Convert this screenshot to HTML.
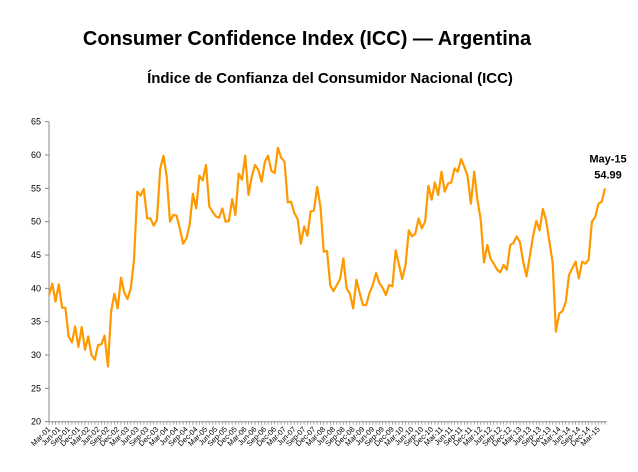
<!DOCTYPE html>
<html><head><meta charset="utf-8"><style>
body{margin:0;background:#fff;width:638px;height:467px;overflow:hidden;font-family:"Liberation Sans",sans-serif}
</style></head><body>
<svg width="638" height="467" xmlns="http://www.w3.org/2000/svg">
<text x="307" y="45" text-anchor="middle" font-size="20" font-weight="bold">Consumer Confidence Index (ICC) — Argentina</text>
<text x="330" y="83" text-anchor="middle" font-size="15" font-weight="bold">Índice de Confianza del Consumidor Nacional (ICC)</text>
<g id="axes"></g>
<path id="line" fill="none" stroke="#ff9900" stroke-width="2.2" stroke-linejoin="round"/>
<text id="lab1" text-anchor="middle" font-size="11" font-weight="bold">May-15</text>
<text id="lab2" text-anchor="middle" font-size="11" font-weight="bold"></text>
</svg>
<script>
const yTicks=[20,25,30,35,40,45,50,55,60,65];
const months=["Jan","Feb","Mar","Apr","May","Jun","Jul","Aug","Sep","Oct","Nov","Dec"];
const startYear=2001, startMonth=2;
const values=[39,40.7,38,40.6,37.1,37.1,32.8,31.9,34.3,31.2,34.2,30.8,32.8,30,29.3,31.5,31.6,32.9,28.3,36.5,39.2,37,41.6,39.4,38.4,40,44.3,54.5,53.9,54.9,50.5,50.5,49.4,50.3,57.9,59.9,56.8,50,51,50.9,49,46.7,47.5,49.5,54.2,52,56.9,56.2,58.5,52.3,51.5,50.8,50.6,
52,50,50.1,53.4,51,57.2,56.3,59.9,54,56.8,58.5,57.8,56,59,59.9,57.6,57.3,61.1,59.6,59,52.9,53,51.3,50.4,46.7,49.3,47.9,51.5,51.7,55.2,52.2,45.5,45.6,40.4,39.6,40.5,41.4,44.5,40,39.2,37,41.3,39.3,37.5,37.5,39.3,40.5,42.3,40.8,40.1,39,40.5,40.3,45.7,43.5,41.4,43.5,48.7,
47.8,48.2,50.5,49,50,55.4,53.3,55.9,54,57.5,54.5,55.7,55.9,58,57.5,59.4,58.2,56.8,52.7,57.5,53.3,50.3,43.9,46.5,44.5,43.7,42.8,42.4,43.5,42.8,46.5,46.8,47.8,46.9,44,41.8,44.8,47.8,50.1,48.7,51.9,50.2,47,43.8,33.5,36.2,36.6,38,42,43,44,41.5,44,43.7,44.3,50,50.7,52.7,53,54.99];
const X0=49,X1=605,Y0=421.7,Y1=121.7;
const x=i=>X0+(X1-X0)*i/(values.length-1);
const y=v=>Y0-(v-20)/45*(Y0-Y1);
const ns="http://www.w3.org/2000/svg";
const g=document.getElementById('axes');
function mk(t,a){const e=document.createElementNS(ns,t);for(const k in a)e.setAttribute(k,a[k]);g.appendChild(e);return e;}
let e=mk('line',{x1:X0,y1:Y1,x2:X0,y2:Y0,stroke:'#888','stroke-width':1});


e=mk('line',{x1:X0,y1:Y0,x2:X1+2,y2:Y0,stroke:'#888','stroke-width':1});


yTicks.forEach(v=>{
 mk('line',{x1:X0-4,y1:y(v),x2:X0,y2:y(v),stroke:'#888'});
 const t=mk('text',{x:X0-8,y:y(v)+3,'text-anchor':'end','font-size':9});
 t.textContent=v;
 
 
});
values.forEach((v,i)=>{
 mk('line',{x1:x(i),y1:Y0,x2:x(i),y2:Y0+3,stroke:'#888','stroke-width':0.7});
 if(i%3===0){
  const m=(startMonth+i)%12, yr=startYear+Math.floor((startMonth+i)/12);
  const t=mk('text',{x:x(i)+2,y:Y0+8,'text-anchor':'end','font-size':7.5,transform:`rotate(-45 ${x(i)+2} ${Y0+8})`});
  t.textContent=months[m]+'-'+String(yr%100).padStart(2,'0');
  
  
 }
});
document.getElementById('line').setAttribute('d',values.map((v,i)=>(i?'L':'M')+x(i).toFixed(1)+','+y(v).toFixed(1)).join(''));
const li=values.length-1;
const l1=document.getElementById('lab1'),l2=document.getElementById('lab2');
l1.setAttribute('x',x(li)+3);l1.setAttribute('y',y(values[li])-26);
l2.setAttribute('x',x(li)+3);l2.setAttribute('y',y(values[li])-10);
l2.textContent=values[li].toFixed(2);
</script>
</body></html>
